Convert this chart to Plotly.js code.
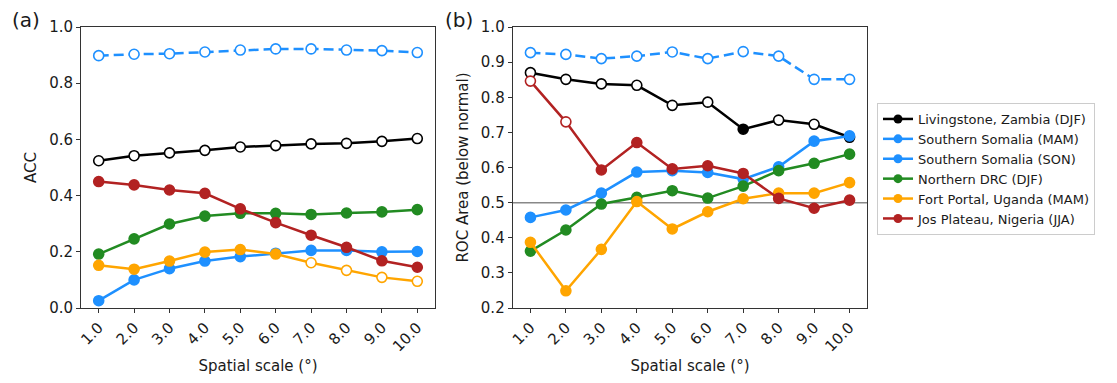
<!DOCTYPE html>
<html>
<head>
<meta charset="utf-8">
<script src="https://cdn.plot.ly/plotly-3.0.1.min.js"></script>
<style>html,body{margin:0;padding:0;background:#fff;}#chart{width:1117px;height:383px;}</style>
</head>
<body>
<div id="chart"></div>
<script>
// ---- data ----
const scales = [1, 2, 3, 4, 5, 6, 7, 8, 9, 10];
const scaleLabels = ["1.0", "2.0", "3.0", "4.0", "5.0", "6.0", "7.0", "8.0", "9.0", "10.0"];
const seriesNames = ["Livingstone, Zambia (DJF)", "Southern Somalia (MAM)", "Southern Somalia (SON)",
                     "Northern DRC (DJF)", "Fort Portal, Uganda (MAM)", "Jos Plateau, Nigeria (JJA)"];

// Panel (a): ACC
const accLivingstone = [0.524, 0.542, 0.552, 0.561, 0.573, 0.578, 0.584, 0.586, 0.593, 0.603];
const accSomaliaMAM  = [0.026, 0.100, 0.140, 0.167, 0.183, 0.195, 0.205, 0.205, 0.200, 0.201];
const accSomaliaSON  = [0.898, 0.903, 0.905, 0.911, 0.918, 0.922, 0.922, 0.918, 0.916, 0.909];
const accNorthDRC    = [0.192, 0.246, 0.299, 0.327, 0.337, 0.337, 0.333, 0.338, 0.342, 0.350];
const accFortPortal  = [0.152, 0.138, 0.167, 0.199, 0.208, 0.192, 0.161, 0.134, 0.109, 0.095];
const accJosPlateau  = [0.450, 0.438, 0.420, 0.408, 0.353, 0.304, 0.259, 0.216, 0.168, 0.145];
// 1 = significant (filled marker), 0 = not significant (open marker)
const accSigLivingstone = [0, 0, 0, 0, 0, 0, 0, 0, 0, 0];
const accSigSomaliaMAM  = [1, 1, 1, 1, 1, 1, 1, 1, 1, 1];
const accSigSomaliaSON  = [0, 0, 0, 0, 0, 0, 0, 0, 0, 0];
const accSigNorthDRC    = [1, 1, 1, 1, 1, 1, 1, 1, 1, 1];
const accSigFortPortal  = [1, 1, 1, 1, 1, 1, 0, 0, 0, 0];
const accSigJosPlateau  = [1, 1, 1, 1, 1, 1, 1, 1, 1, 1];

// Panel (b): ROC area (below normal)
const rocLivingstone = [0.870, 0.851, 0.838, 0.834, 0.777, 0.786, 0.709, 0.735, 0.723, 0.686];
const rocSomaliaMAM  = [0.458, 0.479, 0.527, 0.587, 0.591, 0.586, 0.567, 0.602, 0.675, 0.690];
const rocSomaliaSON  = [0.927, 0.922, 0.910, 0.917, 0.929, 0.910, 0.930, 0.917, 0.851, 0.851];
const rocNorthDRC    = [0.362, 0.422, 0.496, 0.515, 0.534, 0.513, 0.547, 0.591, 0.612, 0.638];
const rocFortPortal  = [0.387, 0.249, 0.367, 0.503, 0.425, 0.474, 0.511, 0.527, 0.527, 0.557];
const rocJosPlateau  = [0.846, 0.730, 0.593, 0.671, 0.596, 0.605, 0.583, 0.512, 0.484, 0.507];
const rocSigLivingstone = [0, 0, 0, 0, 0, 0, 1, 0, 0, 1];
const rocSigSomaliaMAM  = [1, 1, 1, 1, 1, 1, 1, 1, 1, 1];
const rocSigSomaliaSON  = [0, 0, 0, 0, 0, 0, 0, 0, 0, 0];
const rocSigNorthDRC    = [1, 1, 1, 1, 1, 1, 1, 1, 1, 1];
const rocSigFortPortal  = [1, 1, 1, 1, 1, 1, 1, 1, 1, 1];
const rocSigJosPlateau  = [0, 0, 1, 1, 1, 1, 1, 1, 1, 1];
const rocReference = 0.5;

// ---- styling ----
const colors = ["#000000", "#1E90FF", "#1E90FF", "#228B22", "#FFA500", "#B22222"];
const dashes = ["solid", "solid", "10px,5px", "solid", "solid", "solid"];
const FONT = "DejaVu Sans, Liberation Sans, sans-serif";
const TXT = "#1a1a1a";

const accData = [accLivingstone, accSomaliaMAM, accSomaliaSON, accNorthDRC, accFortPortal, accJosPlateau];
const accSig  = [accSigLivingstone, accSigSomaliaMAM, accSigSomaliaSON, accSigNorthDRC, accSigFortPortal, accSigJosPlateau];
const rocData = [rocLivingstone, rocSomaliaMAM, rocSomaliaSON, rocNorthDRC, rocFortPortal, rocJosPlateau];
const rocSig  = [rocSigLivingstone, rocSigSomaliaMAM, rocSigSomaliaSON, rocSigNorthDRC, rocSigFortPortal, rocSigJosPlateau];

function makeTrace(i, ys, sig, xa, ya) {
  return {
    x: scales, y: ys, xaxis: xa, yaxis: ya,
    type: "scatter", mode: "lines+markers", showlegend: false,
    name: seriesNames[i], cliponaxis: false,
    line: {color: colors[i], width: 2.5, dash: dashes[i]},
    marker: {
      size: 10, symbol: "circle",
      color: sig.map(s => s ? colors[i] : "#ffffff"),
      line: {color: colors[i], width: 1.6}
    }
  };
}

const traces = [];
for (let i = 0; i < 6; i++) traces.push(makeTrace(i, accData[i], accSig[i], "x", "y"));
for (let i = 0; i < 6; i++) traces.push(makeTrace(i, rocData[i], rocSig[i], "x2", "y2"));
// legend entries
for (let i = 0; i < 6; i++) {
  traces.push({
    x: [null], y: [null], xaxis: "x2", yaxis: "y2", type: "scatter", mode: "lines+markers",
    name: seriesNames[i], showlegend: true,
    line: {color: colors[i], width: 2.5},
    marker: {size: 9, color: colors[i]}
  });
}

const W = 1117, H = 383;
const yDom = [(H - 308) / H, (H - 27) / H];

function xAxis(dom, anchor) {
  return {
    domain: dom, anchor: anchor, range: [0.5, 10.5],
    tickmode: "array", tickvals: scales, ticktext: scaleLabels, tickangle: -45,
    ticks: "outside", ticklen: 4, tickwidth: 1, tickcolor: "#333",
    showline: true, linecolor: "#333", linewidth: 1, mirror: true,
    showgrid: false, zeroline: false,
    tickfont: {family: FONT, size: 15, color: TXT},
    title: {text: "Spatial scale (°)", font: {family: FONT, size: 15, color: TXT}, standoff: 6}
  };
}
function yAxis(range, dtick, anchor, title) {
  return {
    domain: yDom, anchor: anchor, range: range, dtick: dtick, tick0: 0, tickformat: ".1f",
    ticks: "outside", ticklen: 4, tickwidth: 1, tickcolor: "#333",
    showline: true, linecolor: "#333", linewidth: 1, mirror: true,
    showgrid: false, zeroline: false,
    tickfont: {family: FONT, size: 15, color: TXT},
    title: {text: title, font: {family: FONT, size: 15, color: TXT}, standoff: 8}
  };
}

const layout = {
  width: W, height: H,
  margin: {l: 0, r: 0, t: 0, b: 0},
  paper_bgcolor: "#ffffff", plot_bgcolor: "#ffffff",
  font: {family: FONT, color: TXT},
  xaxis: xAxis([81 / W, 435 / W], "y"),
  yaxis: yAxis([0, 1.0], 0.2, "x", "ACC"),
  xaxis2: xAxis([512.7 / W, 867.3 / W], "y2"),
  yaxis2: yAxis([0.2, 1.0], 0.1, "x2", "ROC Area (below normal)"),
  shapes: [{
    type: "line", xref: "x2 domain", yref: "y2", x0: 0, x1: 1, y0: rocReference, y1: rocReference,
    line: {color: "#888888", width: 1.5}, layer: "below"
  }],
  annotations: [
    {text: "(a)", xref: "paper", yref: "paper", x: 10 / W, y: (H - 20) / H, xanchor: "left", yanchor: "middle",
     showarrow: false, font: {family: FONT, size: 20, color: TXT}},
    {text: "(b)", xref: "paper", yref: "paper", x: 443 / W, y: (H - 20) / H, xanchor: "left", yanchor: "middle",
     showarrow: false, font: {family: FONT, size: 20, color: TXT}}
  ],
  legend: {
    x: 877 / W, y: (H - 103) / H, xanchor: "left", yanchor: "top",
    bgcolor: "#ffffff", bordercolor: "#cccccc", borderwidth: 1,
    font: {family: FONT, size: 13, color: TXT},
    tracegroupgap: 0, itemwidth: 30
  },
  showlegend: true
};

Plotly.newPlot("chart", traces, layout, {displayModeBar: false, staticPlot: true});
</script>
</body>
</html>
